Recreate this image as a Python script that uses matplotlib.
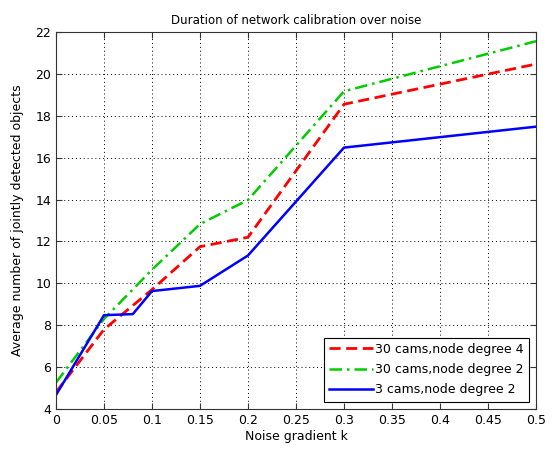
import matplotlib
matplotlib.use("Agg")
import matplotlib.pyplot as plt

# Values
x_red = [0, 0.05, 0.1, 0.15, 0.2, 0.3, 0.5]
y_red = [4.8, 7.8, 9.7, 11.75, 12.2, 18.55, 20.47]

x_green = [0, 0.05, 0.1, 0.15, 0.2, 0.3, 0.5]
y_green = [5.26, 8.3, 10.65, 12.83, 13.98, 19.17, 21.56]

x_blue = [0, 0.05, 0.08, 0.1, 0.15, 0.2, 0.3, 0.5]
y_blue = [4.67, 8.48, 8.53, 9.63, 9.88, 11.33, 16.48, 17.48]

labels = ["30 cams,node degree 4", "30 cams,node degree 2", "3 cams,node degree 2"]

plt.rcParams["font.family"] = ["DejaVu Sans"]

W, H = 553, 449
fig = plt.figure(figsize=(W / 100, H / 100), dpi=100)
ax = fig.add_axes([56 / W, 1 - 409 / H, (536 - 56) / W, (409 - 32) / H])

ax.plot(x_red, y_red, color="red", linestyle=(0, (4, 2)), linewidth=2, label=labels[0])
ax.plot(x_green, y_green, color="#00cc00", linestyle=(0, (5, 2, 1, 2)), linewidth=1.8, label=labels[1])
ax.plot(x_blue, y_blue, color="blue", linestyle="-", linewidth=1.8, label=labels[2])

ax.set_xlim(0, 0.5)
ax.set_ylim(4, 22)
ax.set_xticks([0, 0.05, 0.1, 0.15, 0.2, 0.25, 0.3, 0.35, 0.4, 0.45, 0.5])
ax.set_xticklabels(["0", "0.05", "0.1", "0.15", "0.2", "0.25", "0.3", "0.35", "0.4", "0.45", "0.5"])
ax.set_yticks(range(4, 23, 2))
ax.tick_params(direction="in", top=True, right=True, labelsize=9, length=4, colors="#333333",
               labelcolor="black")
for s in ax.spines.values():
    s.set_color("#333333")
ax.grid(True, color="black", linestyle=(0, (1, 3)), linewidth=0.7)

ax.set_xlabel("Noise gradient k", fontsize=9, labelpad=2)
ax.set_ylabel("Average number of jointly detected objects", fontsize=9, labelpad=8)
ax.set_title("Duration of network calibration over noise", fontsize=8.5, pad=6)

leg = ax.legend(loc="lower right", fontsize=9, fancybox=False, framealpha=1,
                edgecolor="black", handlelength=3.5, handletextpad=0.2,
                borderaxespad=0.6, labelspacing=0.6)
leg.get_frame().set_linewidth(0.8)

plt.savefig("out.png", dpi=100)
